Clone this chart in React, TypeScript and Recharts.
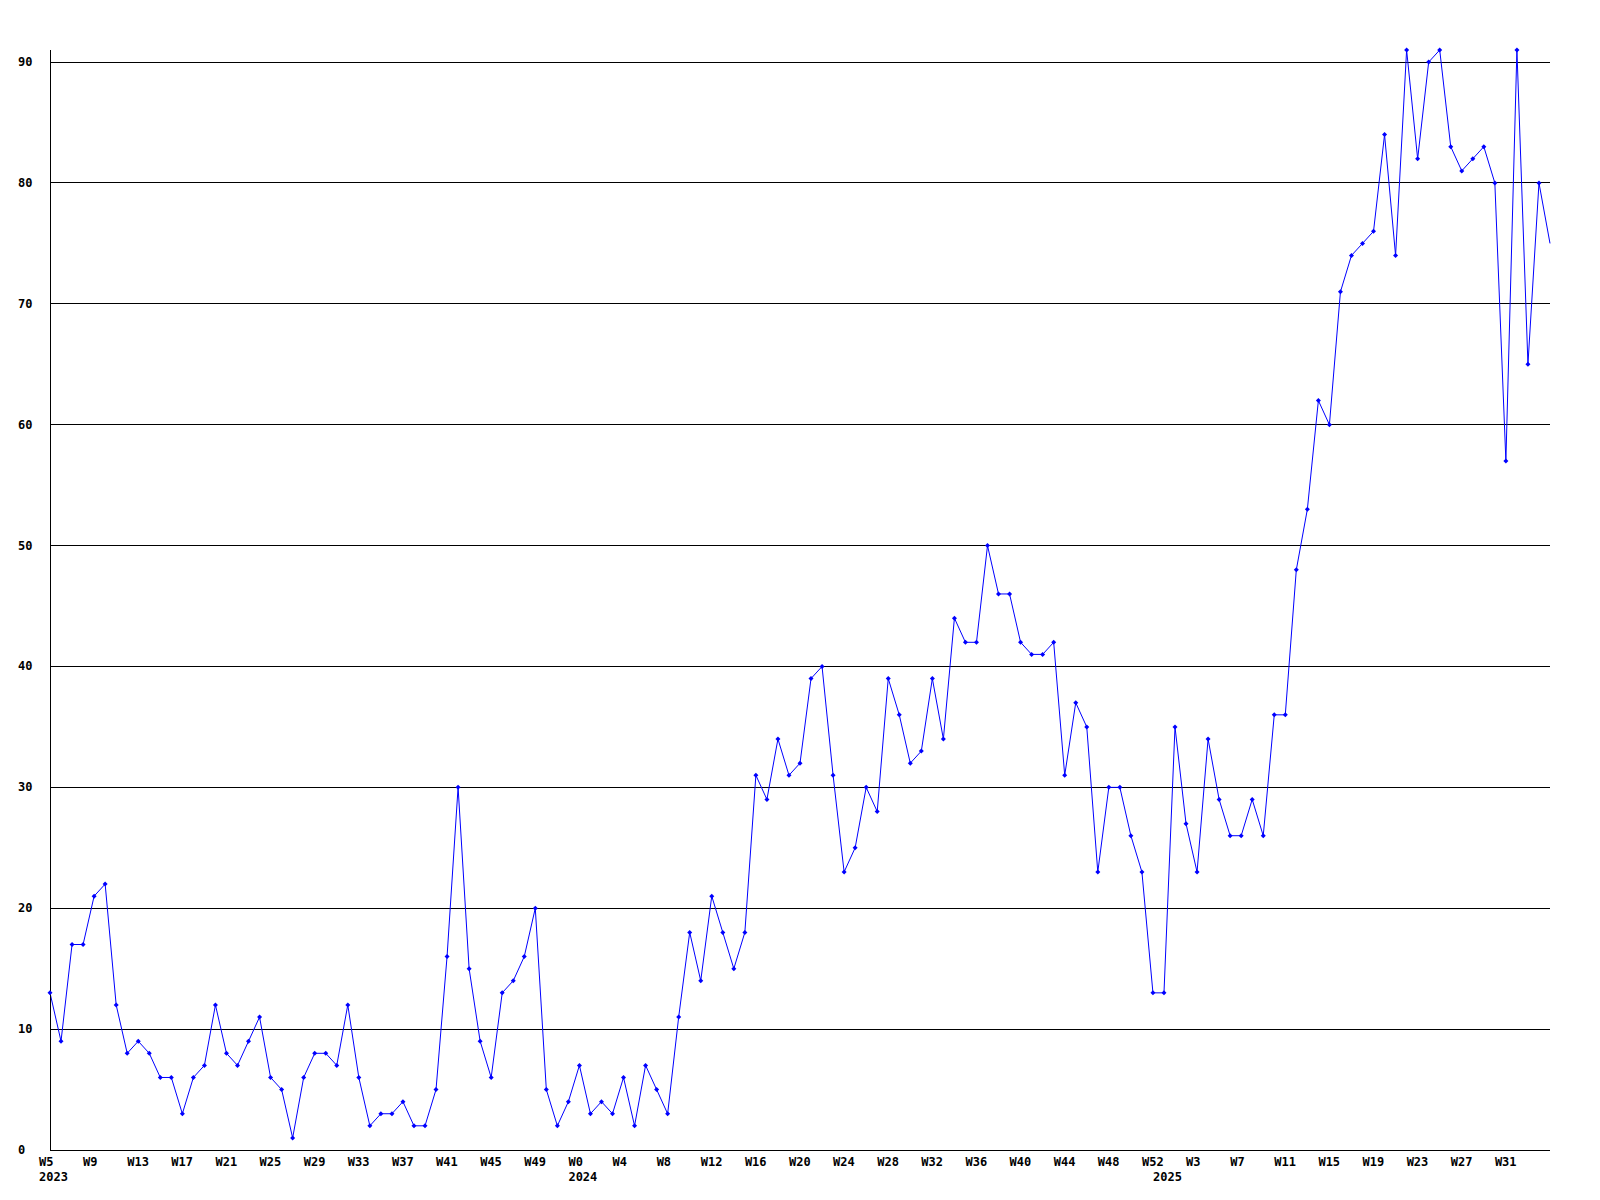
import React from "react";
import { Line, LineChart, ReferenceLine, XAxis, YAxis } from "recharts";

// weekly counts, one array per year
const years = [2023, 2024, 2025];
const firstWeeks = [5, 0, 0];

const values2023 = [
  13, 9, 17, 17, 21, 22, 12, 8, 9, 8, 6, 6, 3, 6, 7, 12, 8, 7, 9, 11, 6, 5, 1, 6,
  8, 8, 7, 12, 6, 2, 3, 3, 4, 2, 2, 5, 16, 30, 15, 9, 6, 13, 14, 16, 20, 5, 2, 4,
];
const values2024 = [
  7, 3, 4, 3, 6, 2, 7, 5, 3, 11, 18, 14, 21, 18, 15, 18, 31, 29, 34, 31, 32, 39,
  40, 31, 23, 25, 30, 28, 39, 36, 32, 33, 39, 34, 44, 42, 42, 50, 46, 46, 42, 41,
  41, 42, 31, 37, 35, 23, 30, 30, 26, 23, 13,
];
const values2025 = [
  13, 35, 27, 23, 34, 29, 26, 26, 29, 26, 36, 36, 48, 53, 62, 60, 71, 74, 75, 76,
  84, 74, 91, 82, 90, 91, 83, 81, 82, 83, 80, 57, 91, 65, 80, 75,
];

const yTicks = [0, 10, 20, 30, 40, 50, 60, 70, 80, 90];

type Point = {
  i: number;
  week: number;
  year: number;
  firstOfYear: boolean;
  value: number;
};

const data: Point[] = [];
[values2023, values2024, values2025].forEach((vals, y) => {
  vals.forEach((v, k) => {
    data.push({
      i: data.length,
      week: firstWeeks[y] + k,
      year: years[y],
      firstOfYear: k === 0,
      value: v,
    });
  });
});
const lastIndex = data.length - 1;

const FONT = "'DejaVu Sans Mono', monospace";

const XTick = (props: any) => {
  const { x, y, payload } = props;
  const d = data[payload.value];
  if (!d) return <g />;
  return (
    <g>
      {d.i % 4 === 0 && d.i !== lastIndex && (
        <text x={x - 11} y={y + 16} fontFamily={FONT} fontSize={12} fontWeight="bold" fill="#000">
          {"W" + d.week}
        </text>
      )}
      {d.firstOfYear && (
        <text x={x - 11} y={y + 31} fontFamily={FONT} fontSize={12} fontWeight="bold" fill="#000">
          {d.year}
        </text>
      )}
    </g>
  );
};

const YTick = (props: any) => {
  const { x, y, payload } = props;
  return (
    <text x={x - 32} y={y + 4} fontFamily={FONT} fontSize={12} fontWeight="bold" fill="#000">
      {payload.value}
    </text>
  );
};

const Marker = (props: any) => {
  const { cx, cy, index } = props;
  if (cx == null || cy == null || index === lastIndex) return <g key={index} />;
  const r = 2.5;
  return (
    <path
      key={index}
      d={`M${cx} ${cy - r}L${cx + r} ${cy}L${cx} ${cy + r}L${cx - r} ${cy}Z`}
      fill="#0000ff"
    />
  );
};

export default function App() {
  return (
    <div style={{ width: 1600, height: 1200, background: "#fff" }}>
      <style>{"html,body{margin:0;padding:0;overflow:hidden;background:#fff}"}</style>
      <LineChart
        width={1600}
        height={1200}
        data={data}
        margin={{ top: 50, right: 50, left: 0, bottom: 0 }}
      >
        {yTicks
          .filter((t) => t > 0)
          .map((t) => (
            <ReferenceLine key={t} y={t} stroke="#000" strokeWidth={1} shapeRendering="crispEdges" />
          ))}
        <XAxis
          dataKey="i"
          type="category"
          interval={0}
          height={50}
          tickLine={false}
          tickSize={0}
          tickMargin={0}
          axisLine={{ stroke: "#000", shapeRendering: "crispEdges" }}
          tick={<XTick />}
        />
        <YAxis
          width={50}
          domain={[0, 91]}
          ticks={yTicks}
          tickLine={false}
          tickSize={0}
          tickMargin={0}
          axisLine={{ stroke: "#000", shapeRendering: "crispEdges" }}
          tick={<YTick />}
        />
        <Line
          type="linear"
          dataKey="value"
          stroke="#0000ff"
          strokeWidth={1}
          dot={Marker}
          activeDot={false}
          isAnimationActive={false}
        />
      </LineChart>
    </div>
  );
}
